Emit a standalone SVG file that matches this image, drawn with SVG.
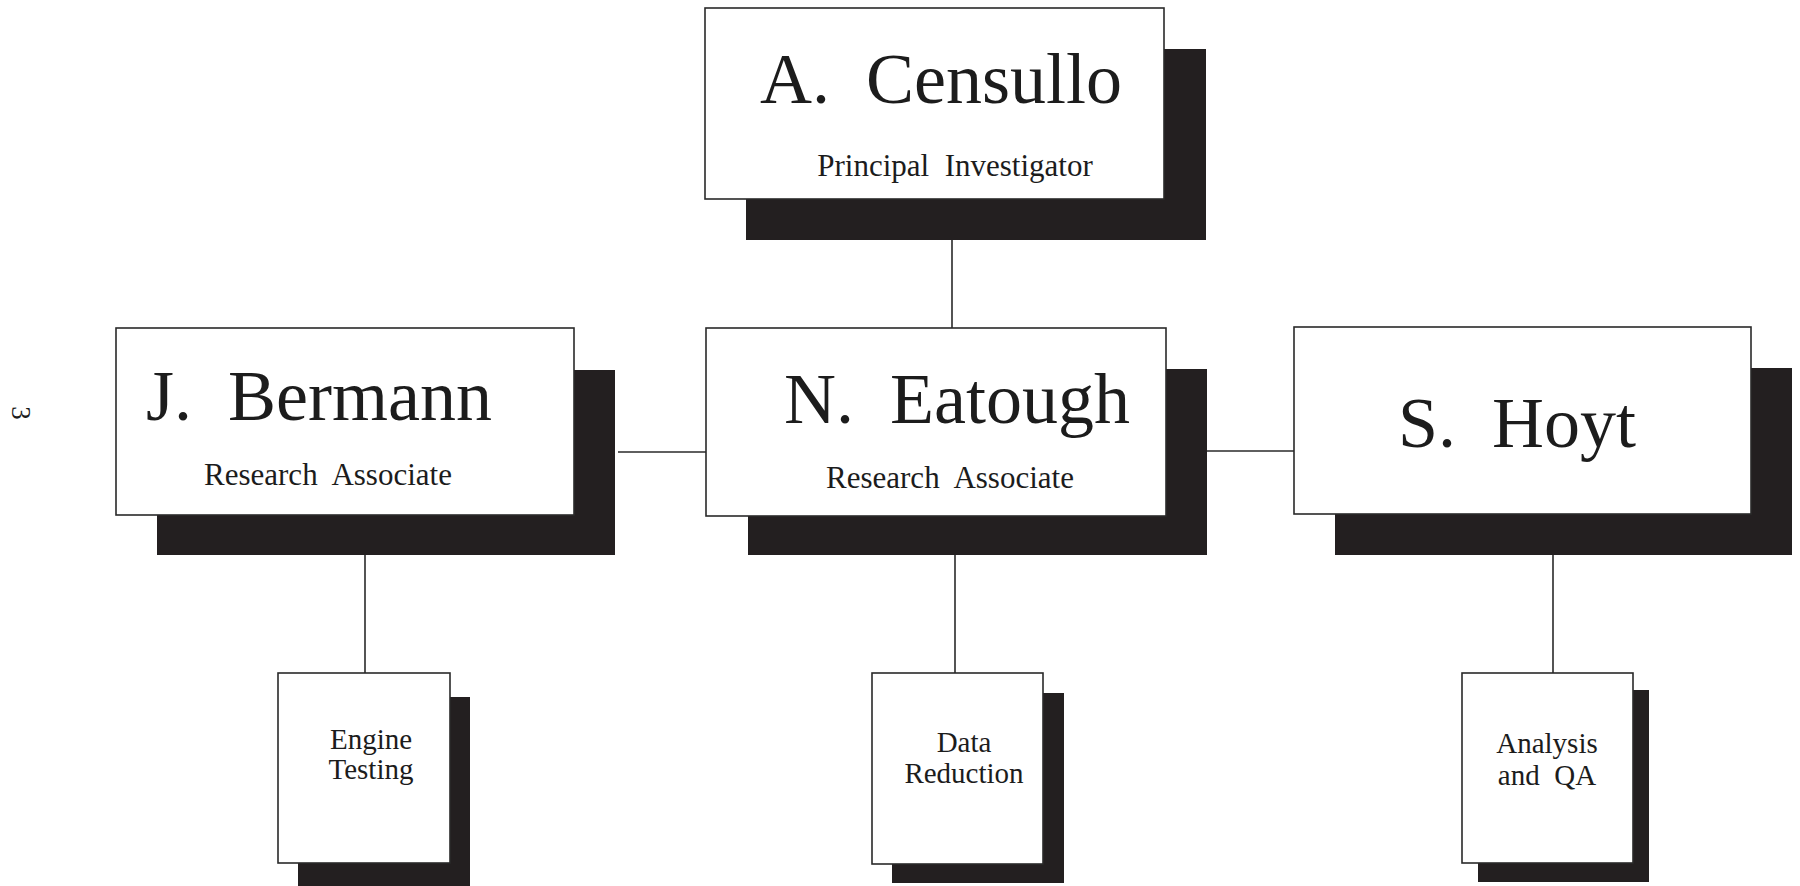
<svg xmlns="http://www.w3.org/2000/svg" width="1800" height="886" viewBox="0 0 1800 886">
<style>
  .bg { fill: #ffffff; }
  .box { fill: #ffffff; stroke: #2a2a2a; stroke-width: 1.6; }
  .shadow { fill: #231f20; }
  .line { stroke: #2a2a2a; stroke-width: 1.6; fill: none; }
  text { font-family: "Liberation Serif", "Times New Roman", serif; fill: #1c1c1c; text-anchor: middle; }
  .name { font-size: 72px; }
  .role { font-size: 31px; }
  .task { font-size: 29px; }
</style>
<rect class="bg" x="0" y="0" width="1800" height="886"/>

<g id="connectors">
  <line class="line" x1="952" y1="240" x2="952" y2="328"/>
  <line class="line" x1="618" y1="452" x2="706" y2="452"/>
  <line class="line" x1="1207" y1="451" x2="1294" y2="451"/>
  <line class="line" x1="365" y1="555" x2="365" y2="673"/>
  <line class="line" x1="955" y1="555" x2="955" y2="673"/>
  <line class="line" x1="1553" y1="555" x2="1553" y2="673"/>
</g>

<g id="censullo">
  <rect class="shadow" x="746" y="49" width="460" height="191"/>
  <rect class="box" x="705" y="8" width="459" height="191"/>
  <text class="name" x="941" y="103" font-size="73" xml:space="preserve">A.  Censullo</text>
  <text class="role" x="955" y="176" xml:space="preserve">Principal  Investigator</text>
</g>

<g id="bermann">
  <rect class="shadow" x="157" y="370" width="458" height="185"/>
  <rect class="box" x="116" y="328" width="458" height="187"/>
  <text class="name" x="319" y="420" xml:space="preserve">J.  Bermann</text>
  <text class="role" x="328" y="485" xml:space="preserve">Research  Associate</text>
</g>

<g id="eatough">
  <rect class="shadow" x="748" y="369" width="459" height="186"/>
  <rect class="box" x="706" y="328" width="460" height="188"/>
  <text class="name" x="957" y="423" xml:space="preserve">N.  Eatough</text>
  <text class="role" x="950" y="488" xml:space="preserve">Research  Associate</text>
</g>

<g id="hoyt">
  <rect class="shadow" x="1335" y="368" width="457" height="187"/>
  <rect class="box" x="1294" y="327" width="457" height="187"/>
  <text class="name" x="1517" y="447" xml:space="preserve">S.  Hoyt</text>
</g>

<g id="engine-testing">
  <rect class="shadow" x="298" y="697" width="172" height="189"/>
  <rect class="box" x="278" y="673" width="172" height="190"/>
  <text class="task" x="371" y="749">Engine</text>
  <text class="task" x="371" y="779">Testing</text>
</g>

<g id="data-reduction">
  <rect class="shadow" x="892" y="693" width="172" height="190"/>
  <rect class="box" x="872" y="673" width="171" height="191"/>
  <text class="task" x="964" y="752">Data</text>
  <text class="task" x="964" y="783">Reduction</text>
</g>

<g id="analysis-qa">
  <rect class="shadow" x="1478" y="690" width="171" height="192"/>
  <rect class="box" x="1462" y="673" width="171" height="190"/>
  <text class="task" x="1547" y="753">Analysis</text>
  <text class="task" x="1547" y="785" xml:space="preserve">and  QA</text>
</g>

<text transform="translate(12,413) rotate(90)" x="0" y="0" font-size="27">3</text>
</svg>
